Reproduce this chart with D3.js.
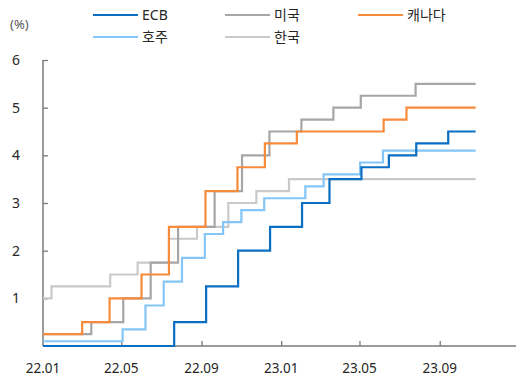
<!DOCTYPE html>
<html><head><meta charset="utf-8">
<script src="https://cdn.jsdelivr.net/npm/d3@7"></script>
<style>body{margin:0;background:#fff}svg{display:block}text{font-family:"Noto Sans","Noto Sans CJK KR",sans-serif}</style>
</head><body><svg id="c" width="516" height="378"></svg>
<script>
// policy-rate change dates (decision dates) and levels, %
const endDate = "2023-10-26";
const ecbDates = ["2022-01-01","2022-07-21","2022-09-08","2022-10-27","2022-12-15","2023-02-02","2023-03-16","2023-05-04","2023-06-15","2023-07-27","2023-09-14"];
const ecbValues = [0,0.5,1.25,2.0,2.5,3.0,3.5,3.75,4.0,4.25,4.5];
const usDates = ["2022-01-01","2022-03-16","2022-05-04","2022-06-15","2022-07-27","2022-09-21","2022-11-02","2022-12-14","2023-02-01","2023-03-22","2023-05-03","2023-07-26"];
const usValues = [0.25,0.5,1.0,1.75,2.5,3.25,4.0,4.5,4.75,5.0,5.25,5.5];
const caDates = ["2022-01-01","2022-03-02","2022-04-13","2022-06-01","2022-07-13","2022-09-07","2022-10-26","2022-12-07","2023-01-25","2023-06-07","2023-07-12"];
const caValues = [0.25,0.5,1.0,1.5,2.5,3.25,3.75,4.25,4.5,4.75,5.0];
const auDates = ["2022-01-01","2022-05-03","2022-06-07","2022-07-05","2022-08-02","2022-09-06","2022-10-04","2022-11-01","2022-12-06","2023-02-07","2023-03-07","2023-05-02","2023-06-06"];
const auValues = [0.1,0.35,0.85,1.35,1.85,2.35,2.6,2.85,3.1,3.35,3.6,3.85,4.1];
const krDates = ["2022-01-01","2022-01-14","2022-04-14","2022-05-26","2022-07-13","2022-08-25","2022-10-12","2022-11-24","2023-01-13"];
const krValues = [1.0,1.25,1.5,1.75,2.25,2.5,3.0,3.25,3.5];
const xTickLabels = ["22.01","22.05","22.09","23.01","23.05","23.09"];
const yTicks = [1,2,3,4,5,6];

const seriesNames = ["ECB","미국","캐나다","호주","한국"];
const colors = {"ECB":"#0a6fc2","미국":"#a6a6a6","캐나다":"#f78b3b","호주":"#84c6f8","한국":"#c9c9c9"};
const parse = d3.timeParse("%Y-%m-%d");
function build(dates, vals){
  const pts = dates.map((d,i)=>({date:parse(d), v:vals[i]}));
  pts.push({date:parse(endDate), v:vals[vals.length-1]});
  return pts;
}
const data = {"ECB":build(ecbDates,ecbValues),"미국":build(usDates,usValues),"캐나다":build(caDates,caValues),"호주":build(auDates,auValues),"한국":build(krDates,krValues)};

const svg = d3.select("#c");
const x = d3.scaleTime().domain([parse("2022-01-01"), parse("2023-12-31")]).range([43, 518.7]);
const y = d3.scaleLinear().domain([0,6]).range([346,60]);

// axes
const axisColor = "#7a7a7a";
const yAx = svg.append("g").attr("transform","translate(43,0)")
  .call(d3.axisRight(y).tickValues(yTicks).tickSize(5).tickFormat(""));
yAx.select(".domain").remove();
yAx.selectAll("line").attr("stroke",axisColor).attr("stroke-width",1.3);
svg.append("line").attr("x1",43).attr("x2",43).attr("y1",y(6)).attr("y2",y(0)).attr("stroke",axisColor).attr("stroke-width",1.5);
svg.selectAll(".ylab").data(yTicks).enter().append("text")
  .attr("x",16).attr("y",d=>y(d)+5).attr("text-anchor","middle")
  .attr("font-size",14).attr("fill","#262626").text(d=>d);

const xTickDates = xTickLabels.map(s=>parse("20"+s.slice(0,2)+"-"+s.slice(3)+"-01"));
const xAx = svg.append("g").attr("transform","translate(0,346)")
  .call(d3.axisTop(x).tickValues(xTickDates.slice(1)).tickSize(5).tickFormat(""));
xAx.select(".domain").remove();
xAx.selectAll("line").attr("stroke",axisColor).attr("stroke-width",1.3);
svg.append("line").attr("x1",43).attr("x2",516).attr("y1",346).attr("y2",346).attr("stroke",axisColor).attr("stroke-width",1.5);
svg.selectAll(".xlab").data(xTickLabels).enter().append("text")
  .attr("x",(d,i)=>x(xTickDates[i])).attr("y",373).attr("text-anchor","middle")
  .attr("font-size",13.5).attr("fill","#262626").text(d=>d);

// lines
const line = d3.line().x(d=>x(d.date)).y(d=>y(d.v)).curve(d3.curveStepAfter);
const drawOrder = ["한국","호주","미국","캐나다","ECB"];
drawOrder.forEach(n=>{
  svg.append("path").datum(data[n]).attr("d",line).attr("fill","none")
    .attr("stroke",colors[n]).attr("stroke-width",2.2);
});

// legend
svg.append("text").attr("x",10).attr("y",29).attr("font-size",13).attr("fill","#595959").text("(%)");
const legPos = [[93,15],[225,15],[358,15],[93,37],[225,37]];
seriesNames.forEach((n,i)=>{
  const [lx,ly] = legPos[i];
  svg.append("line").attr("x1",lx).attr("x2",lx+45).attr("y1",ly).attr("y2",ly)
    .attr("stroke",colors[n]).attr("stroke-width",2.2);
  svg.append("text").attr("x",lx+49).attr("y",ly+5).attr("font-size",14).attr("fill","#262626").text(n);
});
</script></body></html>
